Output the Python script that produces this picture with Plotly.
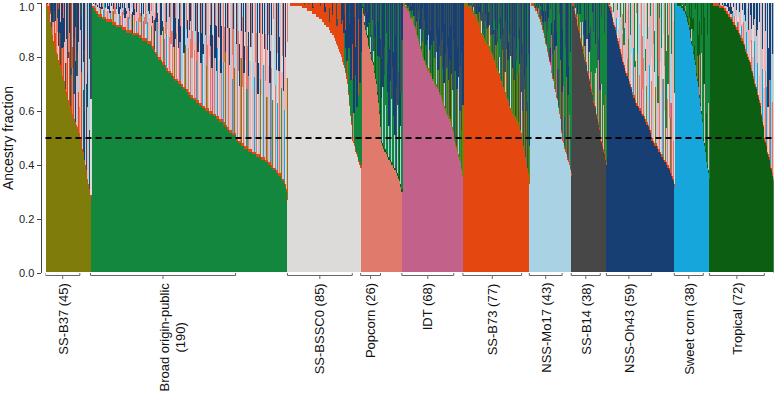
import plotly.graph_objects as go

# ---------------- data ----------------
LABELS = ["SS-B37 (45)", "Broad origin-public<br>(190)", "SS-BSSC0 (85)", "Popcorn (26)",
          "IDT (68)", "SS-B73 (77)", "NSS-Mo17 (43)", "SS-B14 (38)", "NSS-Oh43 (59)",
          "Sweet corn (38)", "Tropical (72)"]
COUNTS = [45, 190, 85, 26, 68, 77, 43, 38, 59, 38, 72]
MAIN_CODE = ["A", "B", "C", "D", "E", "F", "G", "H", "I", "J", "K"]
EDGE_CODE = ["F", "F", "F", "K", "A", "A", "F", "F", "F", "K", "F"]
EDGE_PCT = [1, 1, 1, 1, 1, 1, 1, 1, 1, 1, 1]
Y_TICKS = [0, 0.2, 0.4, 0.6, 0.8, 1.0]

PALETTE = {
    "A": "#807c0c", "B": "#14873f", "C": "#dcdbd9", "D": "#e07a6c", "E": "#c2628b",
    "F": "#e4470f", "G": "#a9d3e4", "H": "#474747", "I": "#173f74", "J": "#16a6db",
    "K": "#0c5e13", "L": "#f2b2b4", "M": "#34505c",
}

# main-cluster ancestry (%) per individual, sorted within group
MAIN_SSB37 = [99,99,98,97,95,93,92,90,89,87,85,84,83,82,81,80,79,78,77,76,75,74,72,71,70,
              68,67,66,65,64,63,62,61,60,59,58,57,56,56,55,54,53,52,51,51,
              49,48,46,45,44,42,41,39,37,35,34,32,30,28]
MAIN_BROAD = [99,99,98,98,97,97,97,96,96,96,95,95,95,
              95,95,94,94,94,94,94,93,93,93,93,93,93,
              93,93,92,92,92,92,92,92,91,91,91,91,91,
              91,91,90,90,90,90,90,89,89,89,89,89,89,
              89,89,89,88,88,88,88,88,88,88,88,88,87,
              87,87,87,86,86,86,86,86,86,85,85,85,85,85,
              84,84,83,83,82,82,81,81,80,80,79,79,79,
              78,78,77,77,77,76,76,75,75,75,74,74,74,
              73,73,73,72,72,72,71,71,71,71,70,70,70,
              69,69,69,68,68,68,68,67,67,67,66,66,66,
              65,65,65,64,64,64,64,63,63,63,63,62,62,
              62,62,61,61,61,61,60,60,60,60,60,59,59,59,
              59,59,58,58,58,58,57,57,57,57,57,56,56,
              56,56,55,55,55,54,54,54,53,53,53,52,52,52,52,51,51,51,51,
              49,49,49,48,48,48,48,47,47,47,47,46,46,46,46,46,45,45,45,45,
              45,45,44,44,44,44,44,43,43,43,43,43,43,
              42,42,42,42,42,41,41,41,41,41,
              40,40,40,39,39,39,38,38,38,38,
              37,37,37,36,36,36,35,
              35,34,34,33,33,32,
              30,27]
MAIN_BSSC0 = [100,100,100,99,99,99,99,99,99,99,99,99,99,99,99,99,99,
              99,99,98,98,98,98,98,98,98,97,97,97,97,97,97,96,96,
              96,96,96,95,95,95,95,94,94,94,94,93,93,
              93,92,92,92,91,91,91,90,90,89,89,89,88,
              88,87,86,86,85,84,83,83,82,81,
              80,79,78,77,76,75,
              74,72,70,68,
              66,62,58,55,52,
              49,48,47,46,45,44,43,42,41,40,39]
MAIN_POPCORN = [99,99,98,96, 94,92,90,88,87,86, 84,83,81,80,79,78,77,76,
                74,72,70,68,66,63,59,54,
                49,48,47,46,46,45,45,44,44,43, 42,42,41,41,40,40,39,39,
                38,38,37,37,36,35,34,33,32,30]
MAIN_IDT = [99,99,99,99,98,98,98,97,97,96,95,94,
            95,94,93,92,91,90,89,88,87,
            86,85,84,83,82,81,80,79,78,
            77,77,76,75,75,74,74,73,73,
            72,71,71,70,70,69,69,68,68,
            67,66,66,65,64,63,62,61,
            61,60,59,58,58,57,57,56,55,
            54,53,52,
            49,48,47,46,45,44,43,42,41,40,38,36]
MAIN_B73 = [100,100,99,99,99,99,99,98,98,98,97,
            97,96,96,96,95,95,94,94,93,92,
            91,90,89,88,88,87,87,86,
            85,85,84,84,83,83,82,82,81,
            80,79,79,78,77,76,75,75,74,
            73,72,71,70,69,69,68,67,
            66,65,64,64,63,62,61,60,60,
            59,58,58,57,57,56,56,55,55,
            54,53,52,51,
            49,48,46,45,43,42,40,38,36,33]
MAIN_MO17 = [100,100,99,99,99,99,98, 98,97,97,96,96,95,94, 93,92,91,90,89,
             87,86,85,84,82,81,80, 78,77,75,74,72,71,70, 68,67,65,64,62,61,59,
             57,55,52,
             49,48,47,46,45,44,43,42,41,40,38,36]
MAIN_B14 = [100,99,99,
            98,97,95,94,93,91,90,89,87,86,85,83,82,81,79,78,77,75,74,73,71,70,69,67,66,
            65,63,62,61,59,58,57,55,53,51,
            49,48,47,46,45,44,42,40]
MAIN_OH43 = [100,100,99,99,98,97,96, 95,94,92,91,
             90,89,88,86,85,84,83,82,80,79,
             78,77,76,75,74,73,73,72,71,
             70,69,68,67,66,65,65,64,
             63,62,62,61,61,60,60,59,59,
             58,58,57,57,56,55,55,54,54,
             53,52,51,
             49,49,48,48,47,47,47,46,46,45,45,44,44,43,43,42,42,41,41,40,
             40,39,39,38,38,37,36,35,34,32]
MAIN_SWEET = [100,100,100,100,99,99,99,99,99,98,98,98,97,97,
              96,95,94,93,92, 90,89,87,85,84,82,81,79,
              77,75,73,71,69,67,65, 62,59,56,52,
              49,47,45,43,41,39,37,34]
MAIN_TROP = [100,100,100,100,100,99,99,99,99,99,99,99,99,98,98,98,98,
             98,98,97,97,97,96,96,96,95,
             95,94,94,93,93,92,92,91,91,90,90,89,89,
             88,87,87,86,86,85,84,83,
             82,81,80,79,79,78,77,76,75,
             74,72,71,70,69,68,67,66,65,
             63,62,60,58,56,54,52,
             49,48,47,45,44,43,42,40,39,38,36,34]
MAINS = [MAIN_SSB37, MAIN_BROAD, MAIN_BSSC0, MAIN_POPCORN, MAIN_IDT, MAIN_B73,
         MAIN_MO17, MAIN_B14, MAIN_OH43, MAIN_SWEET, MAIN_TROP]

# dominant non-main clusters per individual (middle and top of each bar)
MID = [
    "FLDFCFLMFDLFHFDLFCFMFLDFLFHDFLCFMLFDFLFIGLMFDLCFGMLIGMDLGMC",
    "LDGCLJDLECGLDALCJLDGLCDLGEJLDCALGDLCLJGDLEDCGLALDJCLGDLKLDCGJLDCLGADLE"
    "DLCGJLDLCAGLDHLCDJLGLDCLGAEDLJCGLDLJCDLGALDCGLEJDLGCLDALJGDCLDGLCEDLJA"
    "DLCGLDJLCGLAGDLCJDLECLDGALJCDLGDLCJLADGLDCLGLEJDALLGDCJLDAGCDLGCAJLDGL"
    "CDLGJALDCELGADCLJGDLADCLGJLDAGLCDGAJLDGCALGDJCLA",
    "FFFFFFFFFFFFFFFFFFFFFFFFFFFFFFFFFFFFFFFFFFFFFFFFFFFFFFFFFFFFFFFFFFFFFFFFFFBBBBFBBBBBBBDBBBBBBBBB",
    "BGBKBGMBGBKBGBMBGJBKBGBMBKGBGBMBGBKBGBMBGBKBGBMBGBKBGB",
    "BAMBGBAMBKABMBGABMBAMBABGMBABKBAMBGBAMBAKBAMBGBABMABMBAGBMABBAMKBAGBMABMABGBAMBA",
    "AMBAMCABMABAMLABMAKBMABACMBAMBAMBALMABMABMAKBAMCABMABMALBAMBAMCBAMBAKMBAMBAMLBAMABMAMBA",
    "BMBEBAMBIBMBEBMABBMBEBMBABMIBEBMBABEMBMBABMBEBMBABMBEBM",
    "BLBABGBLDBABLBGBADBLBGBLABDBLBAGBLBDBABLBGLBAB",
    "LDCGLAEDLCGLDJCLADGLCDLGELCDALGLCDLJGLDCALGDLCELDGLCAGDLJCLDGLDCALGELDCLGDJLCAGLDCLGAELDC",
    "BKBLBDBKABLBKBDBLKBABKLBDBKBLBAKBDBLBKBLBDKBLB",
    "GJLDCGLJDGCLGJDLCGJLDGLCJGDLGCJLDGCLJGDLCGJLDGCLJGDLGCJDLGCJLGDJCLGDLJGCLDJGLCDGJLDC",
]
TOP = [
    "IMILIFMIDIMILIDMIFILIMIDIMLIMIDIMIFLMIDIMIGILMIMGIMILGIMGIM",
    "ILCIGLIDICLIGCIDLIJICLIGIDCILGIDLCIGILCIGIDLICIGLIDICLIGIDLCILGIDCILGI"
    "CIDLGICILDIGLCIDIGLCLIDICGLIDIGCLIDIGLICIDLGICIDLGCILIGDICLIGIDCLIGIDL"
    "ICGLIDICGLIDIGLCIDIGLCIDIGLICDIGLIDCIGLIDICGLIDIGCLIDGICLIDGICLIDGILCI"
    "DGICLIDGILCIDGLICIDGLICDIGLICDIGLICDIGLICDIGLICD",
    "FFFFFFFFFFFFFFFFFFFFFFMFFFFMFFFFIFFFFMFFFFFMFFFFIFFFFFMFFFFIFFFFMFFFFFIFIIMIFIIBIMIIFIIMIFIIFMIIF",
    "IMIBIMIIMBIIMIBIMIIMBIIMIBIMIIMIBIIMIBIIMIIBIMIIMBIIMI",
    "IMIIMIMIIMIIMIMIIMIIMIIMIIMIMIIMIIMIIMIMIIMIMIIMIIMIMIIMIIMIIMIMIIMIIMIIMIIMIMI",
    "MIMMIBMIMMIMBMIMMIBMIMMIMBMIMIMMIBMIMMIMBMIMMIBMIMMIMBMIMMIBMIMMIBMIMMIBMIMMIMBMIMMIBMI",
    "IBMBIBMIBIBMIBIMBIBMIBMIBIBMIBMBIBIMBIBMIBIMBIBMIBIMBIB",
    "BMBIBMBBIBMBIBBMBIBMBBIBMBBIBMBIBBMBIBBMBIBMBB",
    "BCLGBLCDCBGLCLBCGGBLDCBLGBLCDLGBGCLLBGCDBLGCLBDCGLBCLBGCLBCGLDBCGLBCDBGLBCGLDBCGBLDCGBLCB",
    "KBBKBKBBKBBKBBKBKBBKBBKBKBBKBBKBKBBKBBKBBKBKBB",
    "ILIGICILIGIICILGIILIGICILIGILICIGILICIGILICIGILIGCIILIGICILIGILICIGILICILIGIICILIGIC",
]
# share of the middle cluster in the non-main remainder, in tenths
SHARE = [
    "64758362745836472957364857364957384627584637285946375846375",
    "6758476857758647586757684758697485765847685748675847685768497586476857"
    "6847586748576847685774857648576758476847586748576874865768576847586749"
    "5768475867748657684767584867574867586748758647685767584768495768475867"
    "748657684768574867584768576849758647685767584768",
    "555555555564758362745836472957364857364957384627584637285946375846375964758362745836472957364957",
    "647583627458364729573648573649573846275846372859463758",
    "55555555556475836274583647295736485736495738462758463728594637584637596475836274",
    "555555555564758362745836472957364857364957384627584637285946375846375964758362745836472",
    "5555555555647583627458364729573648573649573846275846372",
    "5555555555647583627458364729573648573649573846",
    "55555555556475836274583647295736485736495738462758463728594637584637596475836274583647295",
    "5555555555647583627458364729573648573649573846",
    "555555555555555555556475836274583647295736485736495738462758463728594637584637596475",
]

# ---------------- build bars ----------------
xs, v0, v1, v2, v3, c0, c1, c2, c3 = [], [], [], [], [], [], [], [], []
starts = []
idx = 0
for g, vals in enumerate(MAINS):
    starts.append(idx)
    mid, top, sh = MID[g], TOP[g], SHARE[g]
    for j, m in enumerate(vals):
        main = m / 100.0
        rem = max(0.0, 1.0 - main)
        edge = min(EDGE_PCT[g] / 100.0, rem)
        rest = rem - edge
        frac = int(sh[j % len(sh)]) / 10.0
        xs.append(idx)
        v0.append(main); v1.append(edge)
        v2.append(rest * frac); v3.append(rest * (1 - frac))
        c0.append(PALETTE[MAIN_CODE[g]])
        c1.append(PALETTE[EDGE_CODE[g]])
        c2.append(PALETTE[mid[j % len(mid)]])
        c3.append(PALETTE[top[j % len(top)]])
        idx += 1
N = idx

fig = go.Figure()
for vals, cols in [(v0, c0), (v1, c1), (v2, c2), (v3, c3)]:
    fig.add_trace(go.Bar(x=xs, y=vals, marker=dict(color=cols, line=dict(width=0)),
                         width=1, showlegend=False, hoverinfo="skip"))

# brackets under the individuals above the 0.5 threshold
bx, by = [], []
for s, c in zip(starts, COUNTS):
    x0, x1 = s - 0.5, s + c - 0.5
    xm = (x0 + x1) / 2
    bx += [x0, x0, x1, x1, None, xm, xm, None]
    by += [0, -2.5, -2.5, 0, None, -2.5, -6, None]
fig.add_trace(go.Scatter(x=bx, y=by, mode="lines", yaxis="y2",
                         line=dict(color="#666666", width=1), showlegend=False, hoverinfo="skip"))

W, H = 778, 402
FONT = "Liberation Sans, Arial, sans-serif"
for s, c, lab in zip(starts, COUNTS, LABELS):
    xm = s + c / 2 - 0.5
    fig.add_annotation(x=xm, y=(H - 281) / H, xref="x", yref="paper", text=lab,
                       textangle=-90, showarrow=False, xanchor="center", yanchor="top",
                       xshift=9 if "<br>" in lab else 0,
                       font=dict(family=FONT, size=13, color="#111"))

# top tick label placed just inside the page so it is not cut off
fig.add_annotation(x=34.5 / W, y=1, xref="paper", yref="paper", text="%.1f" % Y_TICKS[-1],
                   showarrow=False, xanchor="right", yanchor="top", borderpad=0,
                   font=dict(family=FONT, size=11, color="#222"))

fig.add_shape(type="line", xref="x domain", yref="y", x0=0, x1=1, y0=0.5, y1=0.5,
              line=dict(color="black", width=2, dash="6px,4px"))

fig.update_layout(
    width=W, height=H, margin=dict(l=0, r=0, t=0, b=0, autoexpand=False),
    paper_bgcolor="white", plot_bgcolor="white",
    barmode="stack", bargap=0,
    xaxis=dict(domain=[45.5 / W, 773.5 / W], range=[-0.5, N - 0.5], visible=False,
               automargin=False),
    yaxis=dict(domain=[(H - 273) / H, (H - 3) / H], range=[0, 1], anchor="free",
               position=40.5 / W, showline=True, linecolor="#444", linewidth=1,
               ticks="outside", ticklen=4, tickcolor="#444", tickvals=Y_TICKS,
               ticktext=["%.1f" % t for t in Y_TICKS[:-1]] + [""],
               showgrid=False, zeroline=False, automargin=False,
               tickfont=dict(family=FONT, size=11, color="#222"),
               title=dict(text="Ancestry fraction", standoff=1,
                          font=dict(family=FONT, size=14, color="#111"))),
    yaxis2=dict(domain=[(H - 281) / H, (H - 272) / H], range=[-8, 1], visible=False,
                automargin=False),
)
fig.write_html("out.html", config={"displayModeBar": False},
               post_script="document.body.style.margin='0';document.body.style.overflow='hidden';")
